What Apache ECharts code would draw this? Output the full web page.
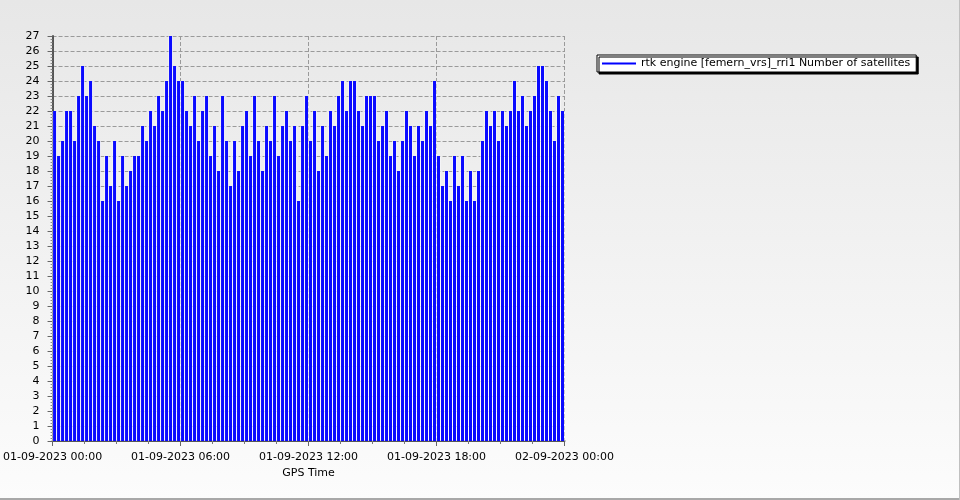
<!DOCTYPE html>
<html>
<head>
<meta charset="utf-8">
<script src="https://cdn.jsdelivr.net/npm/echarts@6/dist/echarts.min.js"></script>
<style>html,body{margin:0;padding:0;}#c{width:960px;height:500px;}</style>
</head>
<body>
<div id="c"></div>
<script>
// X tick labels (every 6 hours) and axis title
const xTickLabels = ['01-09-2023 00:00', '01-09-2023 06:00', '01-09-2023 12:00', '01-09-2023 18:00', '02-09-2023 00:00'];
const xAxisTitle = 'GPS Time';
const seriesName = 'rtk engine [femern_vrs]_rri1 Number of satellites';
// Sampling: one sample every 0.1875 h (11.25 min), starting half a step after 00:00
const sampleStartHour = 0.09375;
const sampleStepHour = 0.1875;
// Number of satellites per sample
const satellites = [
  22, 19, 20, 22, 22, 20, 23, 25, 23, 24, 21, 20, 16, 19, 17, 20,
  16, 19, 17, 18, 19, 19, 21, 20, 22, 21, 23, 22, 24, 27, 25, 24,
  24, 22, 21, 23, 20, 22, 23, 19, 21, 18, 23, 20, 17, 20, 18, 21,
  22, 19, 23, 20, 18, 21, 20, 23, 19, 21, 22, 20, 21, 16, 21, 23,
  20, 22, 18, 21, 19, 22, 21, 23, 24, 22, 24, 24, 22, 21, 23, 23,
  23, 20, 21, 22, 19, 20, 18, 20, 22, 21, 19, 21, 20, 22, 21, 24,
  19, 17, 18, 16, 19, 17, 19, 16, 18, 16, 18, 20, 22, 21, 22, 20,
  22, 21, 22, 24, 22, 23, 21, 22, 23, 25, 25, 24, 22, 20, 23, 22
];

const points = satellites.map((v, i) => [sampleStartHour + i * sampleStepHour, v]);

const chart = echarts.init(document.getElementById('c'), null, { renderer: 'canvas' });
const font = 'DejaVu Sans';
chart.setOption({
  animation: false,
  backgroundColor: {
    type: 'linear', x: 0, y: 0, x2: 0, y2: 1,
    colorStops: [{ offset: 0, color: '#e7e7e7' }, { offset: 1, color: '#fcfcfc' }]
  },
  graphic: [
    { type: 'rect', shape: { x: 0, y: 498, width: 960, height: 2 }, style: { fill: '#a8a8a8' }, silent: true },
    { type: 'rect', shape: { x: 959, y: 0, width: 1, height: 500 }, style: { fill: '#c0c0c0' }, silent: true }
  ],
  legend: {
    left: 597, top: 55,
    orient: 'horizontal',
    padding: [3, 6, 3, 5],
    backgroundColor: '#ffffff',
    borderColor: '#000000',
    borderWidth: 1,
    shadowColor: '#000000',
    shadowBlur: 0,
    shadowOffsetX: 2,
    shadowOffsetY: 2,
    itemWidth: 34,
    itemHeight: 2,
    textStyle: { fontFamily: font, fontSize: 11, color: '#000' },
    data: [{ name: seriesName, icon: 'rect', itemStyle: { color: '#0000ff' } }]
  },
  grid: { left: 52.5, top: 36, width: 512, height: 405, containLabel: false },
  xAxis: [{
    type: 'value', min: 0, max: 24, interval: 6,
    offset: 2,
    name: xAxisTitle, nameLocation: 'middle', nameGap: 23,
    nameTextStyle: { fontFamily: font, fontSize: 11, color: '#000' },
    axisLine: { show: true, lineStyle: { color: '#555', width: 2 } },
    axisTick: { show: true, length: 5, lineStyle: { color: '#666' } },
    minorTick: { show: true, splitNumber: 4, length: 3, lineStyle: { color: '#777' } },
    axisLabel: {
      fontFamily: font, fontSize: 11, color: '#000', margin: 9,
      formatter: v => xTickLabels[Math.round(v / 6)] || ''
    },
    splitLine: { show: true, lineStyle: { color: '#9a9a9a', type: [4, 2], width: 1 } }
  }, {
    type: 'value', min: 0, max: 24, show: false
  }],
  yAxis: {
    type: 'value', min: 0, max: 27, interval: 1,
    offset: 4,
    axisLine: { show: true, lineStyle: { color: '#555', width: 2 } },
    axisTick: { show: true, length: 5, lineStyle: { color: '#666' } },
    minorTick: { show: true, splitNumber: 5, length: 2, lineStyle: { color: '#888' } },
    axisLabel: { fontFamily: font, fontSize: 11, color: '#000', margin: 9 },
    splitLine: { show: true, lineStyle: { color: '#9a9a9a', type: [4, 2], width: 1 } }
  },
  series: [{
    name: 'gap',
    type: 'bar',
    xAxisIndex: 1,
    barWidth: 4,
    itemStyle: { color: '#ffffff' },
    data: points,
    silent: true
  }, {
    name: seriesName,
    type: 'bar',
    xAxisIndex: 0,
    barWidth: 3,
    itemStyle: { color: '#0a0aff' },
    data: points
  }]
});
</script>
</body>
</html>
